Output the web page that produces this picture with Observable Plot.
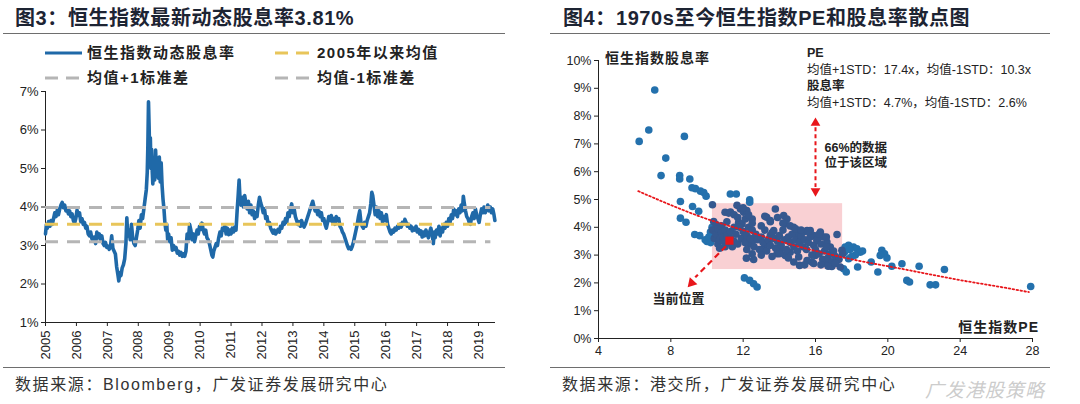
<!DOCTYPE html>
<html><head><meta charset="utf-8">
<script src="https://cdn.jsdelivr.net/npm/d3@7"></script>
<script src="https://cdn.jsdelivr.net/npm/@observablehq/plot@0.6"></script>
<style>
body{margin:0;background:#fff;width:1080px;height:404px;position:relative;overflow:hidden;font-family:"Liberation Sans","Noto Sans CJK SC",sans-serif;color:#222;}
.abs{position:absolute;white-space:nowrap;}
.title{font-size:20px;font-weight:bold;color:#1d2433;line-height:22px;letter-spacing:0.6px;}
.rule{position:absolute;height:0;border-top:1.5px solid #6e6e6e;}
.src{font-size:16px;letter-spacing:1.6px;color:#333;line-height:18px;}
.leg{font-size:15px;font-weight:bold;letter-spacing:1.5px;display:flex;align-items:center;line-height:18px;}
.leg svg{margin-right:5px;}
.ann{font-size:12.5px;line-height:16px;color:#222;}
.axt{font-size:14px;font-weight:bold;letter-spacing:1px;line-height:16px;}
</style></head>
<body>
<div class="abs title" style="left:15px;top:7px">图3：恒生指数最新动态股息率3.81%</div>
<div class="abs title" style="left:563px;top:7px">图4：1970s至今恒生指数PE和股息率散点图</div>
<div class="rule" style="left:3px;top:33px;width:502px"></div>
<div class="rule" style="left:550px;top:33px;width:500px"></div>
<div class="rule" style="left:3px;top:367px;width:502px"></div>
<div class="rule" style="left:550px;top:367px;width:500px"></div>
<div class="abs src" style="left:15px;top:376px">数据来源：Bloomberg，广发证券发展研究中心</div>
<div class="abs src" style="left:562px;top:376px">数据来源：港交所，广发证券发展研究中心</div>

<div id="legend"></div>
<div id="left" class="abs" style="left:0;top:85px"></div>
<div id="right" class="abs" style="left:550px;top:40px"></div>

<div class="abs axt" style="left:605px;top:50px">恒生指数股息率</div>
<div class="abs axt" style="right:41px;top:319px">恒生指数PE</div>
<div class="abs ann" style="left:807px;top:45px"><b>PE</b></div>
<div class="abs ann" style="left:807px;top:62px">均值+1STD：17.4x，均值-1STD：10.3x</div>
<div class="abs ann" style="left:807px;top:78px"><b>股息率</b></div>
<div class="abs ann" style="left:807px;top:95px">均值+1STD：4.7%，均值-1STD：2.6%</div>
<div class="abs" style="left:925px;top:375px;font-size:19px;font-style:italic;color:rgba(190,190,190,0.8);letter-spacing:1px">广发港股策略</div>

<script>
// ---------- Left chart data ----------
const yearTicks = [2005,2006,2007,2008,2009,2010,2011,2012,2013,2014,2015,2016,2017,2018,2019];
const leftYTicks = [1,2,3,4,5,6,7];
const meanValue = 3.55;
const plusStdValue = 3.99;
const minusStdValue = 3.10;
const seriesNames = ["恒生指数动态股息率","2005年以来均值","均值+1标准差","均值-1标准差"];
const dividendYield = [
[2005.00,3.30],[2005.03,3.55],[2005.06,3.45],[2005.10,3.62],[2005.14,3.50],[2005.18,3.65],[2005.22,3.55],[2005.26,3.70],[2005.30,3.85],[2005.34,3.75],
[2005.38,3.92],[2005.42,3.80],[2005.46,3.95],[2005.50,4.05],[2005.54,4.12],[2005.58,3.98],[2005.62,4.05],[2005.66,3.90],[2005.70,3.95],[2005.74,3.82],
[2005.78,3.90],[2005.82,3.75],[2005.86,3.82],[2005.90,3.65],[2005.94,3.58],[2005.98,3.70],[2006.02,3.92],[2006.06,3.78],[2006.10,3.85],[2006.14,3.62],
[2006.18,3.70],[2006.22,3.55],[2006.26,3.60],[2006.30,3.45],[2006.34,3.50],[2006.38,3.30],[2006.42,3.25],[2006.46,3.35],[2006.50,3.18],[2006.54,3.12],
[2006.58,3.22],[2006.62,3.05],[2006.66,3.35],[2006.70,3.20],[2006.74,3.30],[2006.78,3.15],[2006.82,3.25],[2006.86,3.05],[2006.90,3.00],[2006.94,3.08],
[2006.98,2.95],[2007.02,2.98],[2007.06,2.90],[2007.10,2.98],[2007.14,3.25],[2007.18,2.92],[2007.22,2.85],[2007.26,2.78],[2007.30,2.45],[2007.34,2.25],
[2007.37,2.08],[2007.40,2.30],[2007.44,2.22],[2007.48,2.42],[2007.52,2.50],[2007.56,2.65],[2007.60,3.05],[2007.63,3.72],[2007.66,3.25],[2007.70,3.40],
[2007.74,3.15],[2007.78,3.55],[2007.82,3.20],[2007.86,3.05],[2007.90,3.00],[2007.94,3.20],[2007.98,3.40],[2008.02,3.65],[2008.06,3.45],[2008.10,3.80],
[2008.14,3.70],[2008.18,3.95],[2008.22,4.20],[2008.26,4.45],[2008.29,4.90],[2008.31,5.60],[2008.33,6.73],[2008.35,6.10],[2008.37,5.30],[2008.39,5.80],
[2008.41,5.00],[2008.43,5.50],[2008.45,4.95],[2008.47,4.60],[2008.50,5.10],[2008.53,4.70],[2008.56,5.48],[2008.59,4.85],[2008.62,5.20],[2008.65,4.75],
[2008.68,5.30],[2008.71,4.65],[2008.74,5.15],[2008.77,4.55],[2008.80,4.20],[2008.83,3.95],[2008.86,3.60],[2008.89,3.40],[2008.92,3.55],[2008.95,3.15],
[2008.98,3.30],[2009.02,3.10],[2009.06,3.20],[2009.10,2.88],[2009.14,3.00],[2009.18,2.90],[2009.22,2.95],[2009.26,2.80],[2009.30,2.85],[2009.34,2.75],
[2009.38,2.82],[2009.42,2.72],[2009.46,2.78],[2009.50,2.72],[2009.54,2.85],[2009.58,3.30],[2009.62,3.15],[2009.66,3.55],[2009.70,3.40],[2009.74,3.15],
[2009.78,3.30],[2009.82,3.10],[2009.86,3.25],[2009.90,3.40],[2009.94,3.30],[2009.98,3.50],[2010.02,3.42],[2010.06,3.58],[2010.10,3.40],[2010.14,3.30],
[2010.18,3.40],[2010.22,3.20],[2010.26,3.15],[2010.30,3.05],[2010.34,2.90],[2010.38,2.75],[2010.41,2.70],[2010.44,2.85],[2010.48,2.95],[2010.52,3.05],
[2010.56,3.00],[2010.60,3.20],[2010.64,3.35],[2010.68,3.25],[2010.72,3.45],[2010.76,3.40],[2010.80,3.50],[2010.84,3.30],[2010.88,3.45],[2010.92,3.28],
[2010.96,3.40],[2011.00,3.30],[2011.04,3.45],[2011.08,3.35],[2011.12,3.48],[2011.16,3.40],[2011.20,3.95],[2011.23,4.30],[2011.26,4.70],[2011.29,4.20],
[2011.32,4.05],[2011.36,4.25],[2011.40,4.00],[2011.44,4.30],[2011.48,4.10],[2011.52,3.95],[2011.56,4.15],[2011.60,3.85],[2011.64,4.05],[2011.68,3.80],
[2011.72,3.90],[2011.76,3.70],[2011.80,3.85],[2011.84,3.75],[2011.88,4.05],[2011.92,4.25],[2011.96,4.10],[2012.00,4.00],[2012.04,3.85],[2012.08,3.95],
[2012.12,3.70],[2012.16,3.75],[2012.20,3.55],[2012.24,3.60],[2012.28,3.45],[2012.32,3.38],[2012.36,3.32],[2012.40,3.40],[2012.44,3.30],[2012.48,3.35],
[2012.52,3.42],[2012.56,3.35],[2012.60,3.50],[2012.64,3.45],[2012.68,3.60],[2012.72,3.55],[2012.76,3.70],[2012.80,3.60],[2012.84,3.85],[2012.88,3.75],
[2012.92,3.95],[2012.96,4.08],[2013.00,3.85],[2013.04,3.95],[2013.08,3.75],[2013.12,3.65],[2013.16,3.55],[2013.20,3.62],[2013.24,3.50],[2013.28,3.65],
[2013.32,3.55],[2013.36,3.48],[2013.40,3.55],[2013.44,3.65],[2013.48,3.75],[2013.52,3.85],[2013.56,3.95],[2013.60,4.05],[2013.64,4.15],[2013.68,4.00],
[2013.72,3.90],[2013.76,3.95],[2013.80,3.80],[2013.84,3.90],[2013.88,3.75],[2013.92,3.85],[2013.96,3.65],[2014.00,3.70],[2014.04,3.55],[2014.08,3.45],
[2014.12,3.60],[2014.16,3.75],[2014.20,3.65],[2014.24,3.78],[2014.28,3.60],[2014.32,3.70],[2014.36,3.55],[2014.40,3.75],[2014.44,3.65],[2014.48,3.70],
[2014.52,3.50],[2014.56,3.45],[2014.60,3.35],[2014.64,3.30],[2014.68,3.20],[2014.72,3.10],[2014.76,3.00],[2014.80,2.92],[2014.84,2.95],[2014.88,2.90],
[2014.92,2.98],[2014.96,3.10],[2015.00,3.25],[2015.04,3.40],[2015.08,3.55],[2015.12,3.75],[2015.16,3.90],[2015.20,3.60],[2015.24,3.50],[2015.28,3.45],
[2015.32,3.60],[2015.36,3.50],[2015.40,3.65],[2015.44,3.75],[2015.48,3.85],[2015.52,4.10],[2015.55,4.38],[2015.58,4.30],[2015.62,4.05],[2015.66,3.80],
[2015.70,4.00],[2015.74,3.75],[2015.78,3.90],[2015.82,3.70],[2015.86,3.85],[2015.90,3.60],[2015.94,3.75],[2015.98,3.65],[2016.02,3.80],[2016.06,3.55],
[2016.10,3.45],[2016.14,3.35],[2016.18,3.30],[2016.22,3.40],[2016.26,3.35],[2016.30,3.45],[2016.34,3.40],[2016.38,3.50],[2016.42,3.45],[2016.46,3.55],
[2016.50,3.48],[2016.54,3.60],[2016.58,3.55],[2016.62,3.68],[2016.66,3.60],[2016.70,3.50],[2016.74,3.55],[2016.78,3.45],[2016.82,3.50],[2016.86,3.38],
[2016.90,3.45],[2016.94,3.40],[2016.98,3.50],[2017.02,3.35],[2017.06,3.42],[2017.10,3.30],[2017.14,3.38],[2017.18,3.22],[2017.22,3.35],[2017.26,3.25],
[2017.30,3.40],[2017.34,3.30],[2017.38,3.20],[2017.42,3.35],[2017.46,3.45],[2017.50,3.30],[2017.54,3.05],[2017.57,3.35],[2017.60,3.20],[2017.64,3.40],
[2017.68,3.30],[2017.72,3.50],[2017.76,3.25],[2017.80,3.45],[2017.84,3.35],[2017.88,3.55],[2017.92,3.45],[2017.96,3.60],[2018.00,3.50],[2018.04,3.70],
[2018.08,3.60],[2018.12,3.80],[2018.16,3.70],[2018.20,3.95],[2018.24,3.80],[2018.28,3.90],[2018.32,3.75],[2018.36,3.95],[2018.40,3.85],[2018.44,4.05],
[2018.48,3.90],[2018.51,4.28],[2018.54,4.10],[2018.58,3.90],[2018.62,3.75],[2018.66,3.70],[2018.70,3.60],[2018.74,3.55],[2018.78,3.75],[2018.82,3.85],
[2018.86,3.70],[2018.90,3.95],[2018.94,3.80],[2018.98,3.70],[2019.02,3.60],[2019.06,3.80],[2019.10,3.95],[2019.14,3.85],[2019.18,4.00],[2019.22,3.85],
[2019.26,3.95],[2019.30,4.05],[2019.34,3.90],[2019.38,4.00],[2019.42,3.85],[2019.46,3.95],[2019.50,3.80],[2019.53,3.65]
];

// ---------- Right chart data ----------
const peTicks = [4,8,12,16,20,24,28];
const rightYTicks = [0,1,2,3,4,5,6,7,8,9,10];
const scatterPoints = [
[6.25,7.09],[6.78,7.5],[7.11,8.94],[8.75,7.27],[7.72,6.49],[7.46,5.86],[8.49,5.86],[8.49,5.74],[9.05,5.74],[9.17,5.42],
[9.36,5.39],[9.64,5.3],[9.82,5.25],[9.95,5.12],[11.29,5.2],[11.62,5.2],[12.36,4.99],[8.53,4.93],[9.2,4.75],[9.54,4.58],
[10.3,4.81],[8.53,4.33],[8.84,4.18],[9.32,3.74],[9.6,3.7],[10.0,3.49],[10.37,4.21],[10.28,4.0],[10.19,3.83],[11.0,4.54],
[11.2,4.51],[11.66,4.79],[11.85,4.66],[12.03,4.54],[12.2,4.6],[12.36,4.9],[11.75,4.18],[11.94,4.12],[12.12,4.3],[12.2,3.53],
[12.4,3.4],[12.58,3.53],[12.5,4.3],[12.18,2.89],[12.58,2.84],[12.07,2.18],[12.36,2.09],[12.58,1.97],[12.77,1.85],[13.13,3.23],
[13.32,3.4],[13.5,3.7],[13.69,3.88],[13.78,4.66],[13.3,4.36],[13.5,4.24],[14.24,4.42],[14.42,4.3],[14.33,4.12],[13.87,3.05],
[14.05,3.17],[14.33,2.99],[14.6,3.1],[14.79,4.0],[14.98,3.77],[15.16,3.53],[15.34,3.83],[15.07,2.93],[15.12,2.63],[15.53,2.8],
[15.53,3.88],[15.71,3.88],[15.9,3.7],[16.08,3.53],[15.8,2.75],[15.99,2.99],[16.27,3.83],[16.45,3.65],[16.63,3.47],[16.82,3.29],
[16.63,2.69],[16.9,2.59],[17.19,2.81],[17.19,3.74],[17.37,2.57],[17.55,2.51],[17.7,2.39],[17.46,3.17],[17.64,3.29],[17.83,3.35],
[17.83,2.87],[18.1,3.29],[18.29,3.23],[18.47,3.1],[18.33,2.57],[19.08,2.75],[19.45,2.39],[19.67,3.17],[19.82,3.05],[19.95,2.9],
[19.58,2.99],[20.22,2.6],[20.78,2.69],[21.05,2.09],[21.2,2.03],[21.73,2.6],[22.34,1.93],[22.64,1.93],[23.13,2.48],[27.9,1.87],
[10.3,3.9],[10.4,3.6],[10.5,3.75],[10.5,4.1],[10.6,3.4],[10.6,3.95],[10.7,3.55],[10.7,3.25],[10.8,3.8],[10.8,4.05],
[10.9,3.5],[10.9,3.65],[11.0,3.3],[11.0,3.9],[11.1,3.7],[11.1,4.2],[11.2,3.45],[11.3,3.6],[11.3,3.85],[11.4,3.3],
[11.5,4.0],[11.5,3.5],[11.6,3.75],[11.7,3.4],[11.8,4.0],[11.9,3.6],[12.0,3.85],[12.1,3.45],[12.2,3.7],[12.3,4.0],
[12.4,3.6],[12.5,3.9],[12.6,3.3],[12.7,3.75],[12.8,3.55],[12.9,3.2],[13.0,3.65],[13.1,3.45],[13.2,3.9],[13.3,3.15],
[13.4,3.55],[13.5,3.35],[13.6,3.8],[13.7,3.6],[13.8,3.25],[13.9,3.5],[14.0,3.7],[14.1,3.35],[14.2,3.9],[14.3,3.55],
[14.4,3.2],[14.5,3.65],[14.6,3.45],[14.7,3.75],[14.8,3.3],[14.9,3.55],[15.0,3.15],[15.1,3.45],[15.2,3.7],[15.3,3.3],
[15.4,3.55],[15.5,3.2],[15.6,3.45],[15.7,3.65],[15.8,3.0],[15.9,3.35],[16.0,3.2],[16.1,3.55],[16.2,3.05],[16.3,3.4],
[16.4,2.85],[16.5,3.15],[16.6,3.3],[16.7,2.9],[16.8,3.05],[16.9,2.75],[17.0,3.15],[17.1,2.95],[17.3,2.85],[17.5,3.05],
[11.3,4.55],[11.5,4.45],[11.7,4.35],[12.0,4.7],[12.3,4.45],[12.5,4.15],[13.0,4.05],[13.2,4.4],[13.5,4.2],[13.9,4.35],
[14.2,4.15],[14.6,4.05],[14.9,3.95],[15.2,3.9],[15.6,3.85],[16.2,3.75],[16.6,3.65],
[12.2,3.2],[12.5,3.05],[13.0,3.0],[13.6,2.95],[14.0,3.05],[14.5,2.9],[14.8,2.75],[15.4,2.65],[15.9,2.7],[16.3,2.65],
[16.7,2.6],[17.1,2.7],[9.9,3.55],[10.1,3.65],[10.2,3.45],[17.6,3.1],[17.9,3.2],[18.2,3.0],[18.6,3.15],[18.0,2.95]
];
const trendPE = [6.2,8,10,12,14,16,18,20,22,24,26,27.8];
const trendDY = [5.3,4.8,4.3,3.9,3.5,3.15,2.85,2.6,2.35,2.1,1.88,1.67];
const band = {pe1:10.3, pe2:17.5, dy1:2.48, dy2:4.85};
const current = {pe:11.24, dy:3.52};
const rangeArrow = {pe:16, top:7.6, bottom:5.45, headTop:7.75, headBottom:5.3};
const currentArrow = {pe1:11.05, dy1:3.32, pe2:9.35, dy2:2.2, headPE:9.15, headDY:2.0};
const rangeLabels = [{pe:16.5, dy:6.87, text:"66%的数据"},{pe:16.5, dy:6.3, text:"位于该区域"}];
const currentLabel = [{pe:8.42, dy:1.44, text:"当前位置"}];

// ---------- Colors ----------
const BLUE = "#1f69a8", YELLOW = "#e8c55a", GRAY = "#b5b5b5", RED = "#e8161b";
const DOT = "#2471ad", DOT_IN = "#35588f", PINK = "#f9d0d3";

// ---------- Legend ----------
const legendItems = [
  {name: seriesNames[0], color: BLUE, dash: null, left: 45, top: 44},
  {name: seriesNames[1], color: YELLOW, dash: "13,8", left: 275, top: 44},
  {name: seriesNames[2], color: GRAY, dash: "13,8", left: 45, top: 69},
  {name: seriesNames[3], color: GRAY, dash: "13,8", left: 275, top: 69}
];
const legend = document.getElementById("legend");
for (const it of legendItems) {
  const d = document.createElement("div");
  d.className = "abs leg";
  d.style.left = it.left + "px"; d.style.top = it.top + "px";
  d.innerHTML = `<svg width="37" height="18"><line x1="0" x2="37" y1="9" y2="9" stroke="${it.color}" stroke-width="3" ${it.dash ? `stroke-dasharray="${it.dash}"` : ""}/></svg><span>${it.name}</span>`;
  legend.appendChild(d);
}

const font = '"Liberation Sans","Noto Sans CJK SC",sans-serif';
const endYear = 2019.55;
const refLines = [
  {value: plusStdValue, from: 2005, to: 2019.4, color: GRAY},
  {value: minusStdValue, from: 2005, to: 2019.4, color: GRAY},
  {value: meanValue, from: 2005, to: 2019.4, color: YELLOW}
];

const leftPlot = Plot.plot({
  width: 510, height: 285,
  marginLeft: 45, marginRight: 15, marginTop: 6, marginBottom: 48,
  style: {fontSize: "13px", fontFamily: font, color: "#222", background: "transparent", overflow: "visible"},
  x: {domain: [2005, endYear], ticks: yearTicks, tickFormat: d => String(d), tickRotate: -90, tickSize: 4, tickPadding: 4, label: null},
  y: {domain: [1, 7], ticks: leftYTicks, tickFormat: d => d + "%", tickSize: 4, tickPadding: 3, label: null},
  marks: [
    Plot.ruleX([2005], {stroke: "#222", strokeWidth: 1}),
    Plot.ruleY([1], {stroke: "#222", strokeWidth: 1}),
    Plot.line(dividendYield, {x: d => d[0], y: d => d[1], stroke: BLUE, strokeWidth: 3.6, strokeLinejoin: "round"}),
    Plot.ruleY(refLines.filter(r => r.color === GRAY), {y: "value", x1: "from", x2: "to", stroke: GRAY, strokeWidth: 3, strokeDasharray: "13,9"}),
    Plot.ruleY(refLines.filter(r => r.color === YELLOW), {y: "value", x1: "from", x2: "to", stroke: YELLOW, strokeWidth: 3, strokeDasharray: "13,9"})
  ]
});
document.getElementById("left").appendChild(leftPlot);

const inBand = d => d[0] >= band.pe1 && d[0] <= band.pe2 && d[1] >= band.dy1 && d[1] <= band.dy2;
const trend = trendPE.map((p, i) => ({pe: p, dy: trendDY[i]}));

const rightPlot = Plot.plot({
  width: 500, height: 325,
  marginLeft: 48, marginRight: 18, marginTop: 20, marginBottom: 27,
  style: {fontSize: "12.5px", fontFamily: font, color: "#222", background: "transparent", overflow: "visible"},
  x: {domain: [4, 28], ticks: peTicks, tickSize: 4, tickPadding: 4, label: null},
  y: {domain: [0, 10], ticks: rightYTicks, tickFormat: d => d + "%", tickSize: 4, tickPadding: 3, label: null},
  marks: [
    Plot.rect([band], {x1: "pe1", x2: "pe2", y1: "dy1", y2: "dy2", fill: PINK}),
    Plot.dot(scatterPoints.filter(d => !inBand(d)), {x: d => d[0], y: d => d[1], r: 3.8, fill: DOT}),
    Plot.dot(scatterPoints.filter(inBand), {x: d => d[0], y: d => d[1], r: 3.8, fill: DOT_IN}),
    Plot.line(trend, {x: "pe", y: "dy", stroke: RED, strokeWidth: 1.8, strokeDasharray: "1.6,2.4", curve: "natural"}),
    Plot.link([rangeArrow], {x1: "pe", x2: "pe", y1: "top", y2: "bottom", stroke: RED, strokeWidth: 2, strokeDasharray: "4,3"}),
    Plot.dot([rangeArrow], {x: "pe", y: "headTop", symbol: "triangle", r: 3.6, fill: RED, rotate: 0}),
    Plot.dot([rangeArrow], {x: "pe", y: "headBottom", symbol: "triangle", r: 3.6, fill: RED, rotate: 180}),
    Plot.link([currentArrow], {x1: "pe1", y1: "dy1", x2: "pe2", y2: "dy2", stroke: RED, strokeWidth: 2.2, strokeDasharray: "6,4"}),
    Plot.dot([currentArrow], {x: "headPE", y: "headDY", symbol: "triangle", r: 3.8, fill: RED, rotate: -138}),
    Plot.dot([current], {x: "pe", y: "dy", symbol: "square", r: 4.6, fill: RED}),
    Plot.text(rangeLabels, {x: "pe", y: "dy", text: "text", textAnchor: "start", fontSize: 12.5, fontWeight: "bold", fill: "#222"}),
    Plot.text(currentLabel, {x: "pe", y: "dy", text: "text", textAnchor: "middle", fontSize: 13, fontWeight: "bold", fill: "#222"}),
    Plot.ruleX([4], {stroke: "#222", strokeWidth: 1}),
    Plot.ruleY([0], {stroke: "#222", strokeWidth: 1})
  ]
});
document.getElementById("right").appendChild(rightPlot);
</script>
</body></html>
